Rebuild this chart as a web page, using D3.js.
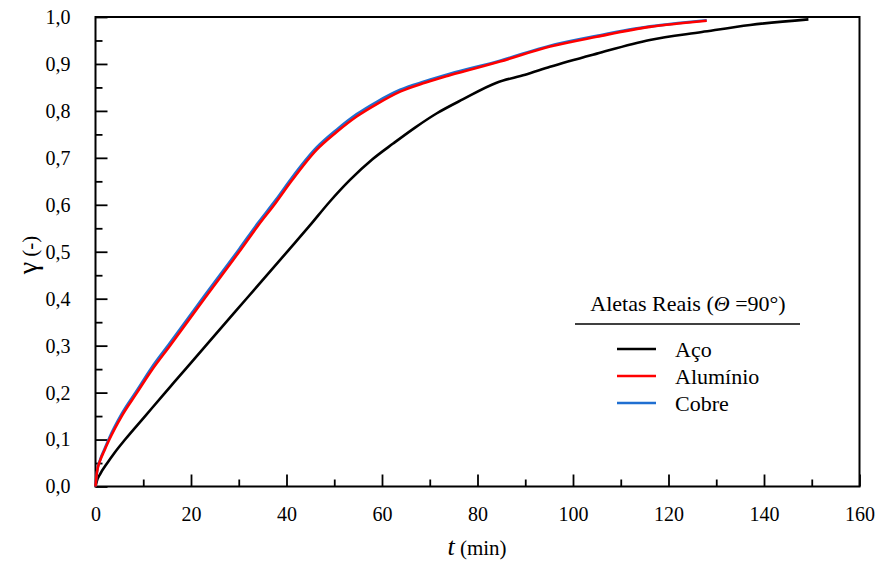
<!DOCTYPE html>
<html>
<head>
<meta charset="utf-8">
<script src="https://cdn.jsdelivr.net/npm/d3@7"></script>
<style>
  html, body { margin: 0; padding: 0; background: #fff; }
  svg text { font-family: "Times New Roman", Times, "Liberation Serif", Tinos, "Noto Serif", "DejaVu Serif", serif; }
</style>
</head>
<body>
<svg id="chart" width="878" height="563"></svg>
<script>
// Time (min) and dimensionless fraction γ for each fin material
const tAco = [0, 0.3, 1, 2.4, 4, 6.2, 10.4, 14.6, 16.3, 23.6, 31.7, 40.4, 44.9, 49, 53.3, 58, 62.4, 67, 71.5, 77, 84, 90, 95.2, 105, 116.1, 127, 137.1, 149.3];
const gAco = [0, 0.012, 0.027, 0.049, 0.072, 0.1, 0.15, 0.2, 0.22, 0.306, 0.401, 0.503, 0.556, 0.606, 0.653, 0.697, 0.731, 0.765, 0.795, 0.825, 0.86, 0.877, 0.894, 0.922, 0.951, 0.968, 0.983, 0.995];

const tAl = [0, 0.3, 1.0, 1.8, 2.9, 5.5, 8.7, 11.6, 15.6, 22.8, 30.1, 34, 37.8, 41, 46.3, 50.5, 54.7, 59, 63.8, 69, 74.2, 84.7, 95.2, 105, 116.1, 122, 128];
const gAl = [0, 0.03, 0.056, 0.075, 0.1, 0.15, 0.2, 0.245, 0.3, 0.4, 0.5, 0.555, 0.605, 0.65, 0.717, 0.755, 0.788, 0.815, 0.841, 0.86, 0.876, 0.905, 0.937, 0.958, 0.979, 0.986, 0.992];

const tCu = [0, 0.3, 1.0, 1.8, 2.9, 5.5, 8.7, 11.6, 15.6, 22.8, 30.1, 34, 37.8, 41, 46.3, 50.5, 54.7, 59, 63.8, 69, 74.2, 84.7, 95.2, 105, 116.1, 122, 128];
const gCu = [0, 0.03, 0.058, 0.078, 0.104, 0.155, 0.205, 0.251, 0.306, 0.406, 0.506, 0.561, 0.611, 0.656, 0.722, 0.76, 0.793, 0.82, 0.845, 0.863, 0.879, 0.907, 0.939, 0.96, 0.98, 0.987, 0.993];

const seriesNames = ["Aço", "Alumínio", "Cobre"];
const seriesColors = ["#000000", "#ff0000", "#1f6fd1"];

const xMajor = [0, 20, 40, 60, 80, 100, 120, 140, 160];
const xMinor = [10, 30, 50, 70, 90, 110, 130, 150];
const yMajor = [0, 0.1, 0.2, 0.3, 0.4, 0.5, 0.6, 0.7, 0.8, 0.9, 1.0];
const yMinor = [0.05, 0.15, 0.25, 0.35, 0.45, 0.55, 0.65, 0.75, 0.85, 0.95];

const FONT = "'Times New Roman', Times, 'Liberation Serif', Tinos, 'Noto Serif', 'DejaVu Serif', serif";

const svg = d3.select("#chart");
svg.append("rect").attr("width", 878).attr("height", 563).attr("fill", "#fff");

const L = 95.5, R = 859.5, T = 17, B = 486.5;
const x = d3.scaleLinear().domain([0, 160]).range([L, R]);
const y = d3.scaleLinear().domain([0, 1]).range([B, T]);

const fmtY = d => d3.format(".1f")(d).replace(".", ",");

// axes with inward ticks
const xAxis = d3.axisBottom(x).tickValues(xMajor).tickSize(-12).tickPadding(20).tickFormat(d3.format("d"));
const xAxisMinor = d3.axisBottom(x).tickValues(xMinor).tickSize(-7).tickFormat("");
const yAxis = d3.axisLeft(y).tickValues(yMajor).tickSize(-12).tickPadding(25).tickFormat(fmtY);
const yAxisMinor = d3.axisLeft(y).tickValues(yMinor).tickSize(-7).tickFormat("");

function styleAxis(g) {
  g.attr("font-family", null);
  g.select(".domain").remove();
  g.selectAll("line").attr("stroke", "#000").attr("stroke-width", 1.8);
  g.selectAll("text").attr("fill", "#000").attr("font-size", 20).style("font-family", FONT);
}

svg.append("g").attr("transform", `translate(0,${B})`).call(xAxisMinor).call(styleAxis);
svg.append("g").attr("transform", `translate(0,${B})`).call(xAxis).call(styleAxis);
svg.append("g").attr("transform", `translate(${L},0)`).call(yAxisMinor).call(styleAxis);
svg.append("g").attr("transform", `translate(${L},0)`).call(yAxis).call(styleAxis);

// frame
svg.append("rect").attr("x", L).attr("y", T).attr("width", R - L).attr("height", B - T)
  .attr("fill", "none").attr("stroke", "#000").attr("stroke-width", 2);

// curves
const line = d3.line().x(d => x(d[0])).y(d => y(d[1])).curve(d3.curveMonotoneX);
const zip = (a, b) => a.map((v, i) => [v, b[i]]);
const plotOrder = [
  { data: zip(tAco, gAco), color: seriesColors[0] },
  { data: zip(tCu, gCu), color: seriesColors[2] },
  { data: zip(tAl, gAl), color: seriesColors[1] }
];
plotOrder.forEach(s => {
  svg.append("path").datum(s.data).attr("d", line)
    .attr("fill", "none").attr("stroke", s.color).attr("stroke-width", 2.6)
    .attr("stroke-linejoin", "round").attr("stroke-linecap", "butt");
});

// axis titles
const xt = svg.append("text").attr("x", 477).attr("y", 555).attr("text-anchor", "middle")
  .attr("fill", "#000").style("font-family", FONT);
xt.append("tspan").attr("font-style", "italic").attr("font-size", 26).text("t");
xt.append("tspan").attr("font-size", 21).text(" (min)");

const yt = svg.append("text").attr("transform", "translate(37,255) rotate(-90)")
  .attr("text-anchor", "middle").attr("fill", "#000").style("font-family", FONT);
yt.append("tspan").attr("font-size", 28).text("γ");
yt.append("tspan").attr("font-size", 21).text(" (-)");

// legend
const lg = svg.append("g");
const lt = lg.append("text").attr("x", 688).attr("y", 311).attr("text-anchor", "middle")
  .attr("font-size", 22).attr("fill", "#000").style("font-family", FONT);
lt.append("tspan").text("Aletas Reais (");
lt.append("tspan").attr("font-style", "italic").text("Θ");
lt.append("tspan").text(" =90°)");
lg.append("line").attr("x1", 575).attr("x2", 800).attr("y1", 324).attr("y2", 324)
  .attr("stroke", "#000").attr("stroke-width", 1.5);

const legendY = [349, 376, 403];
seriesNames.forEach((name, i) => {
  lg.append("line").attr("x1", 617).attr("x2", 656).attr("y1", legendY[i]).attr("y2", legendY[i])
    .attr("stroke", seriesColors[i]).attr("stroke-width", 2.6);
  lg.append("text").attr("x", 675).attr("y", legendY[i] + 8).attr("font-size", 22)
    .attr("fill", "#000").style("font-family", FONT).text(name);
});
</script>
</body>
</html>
